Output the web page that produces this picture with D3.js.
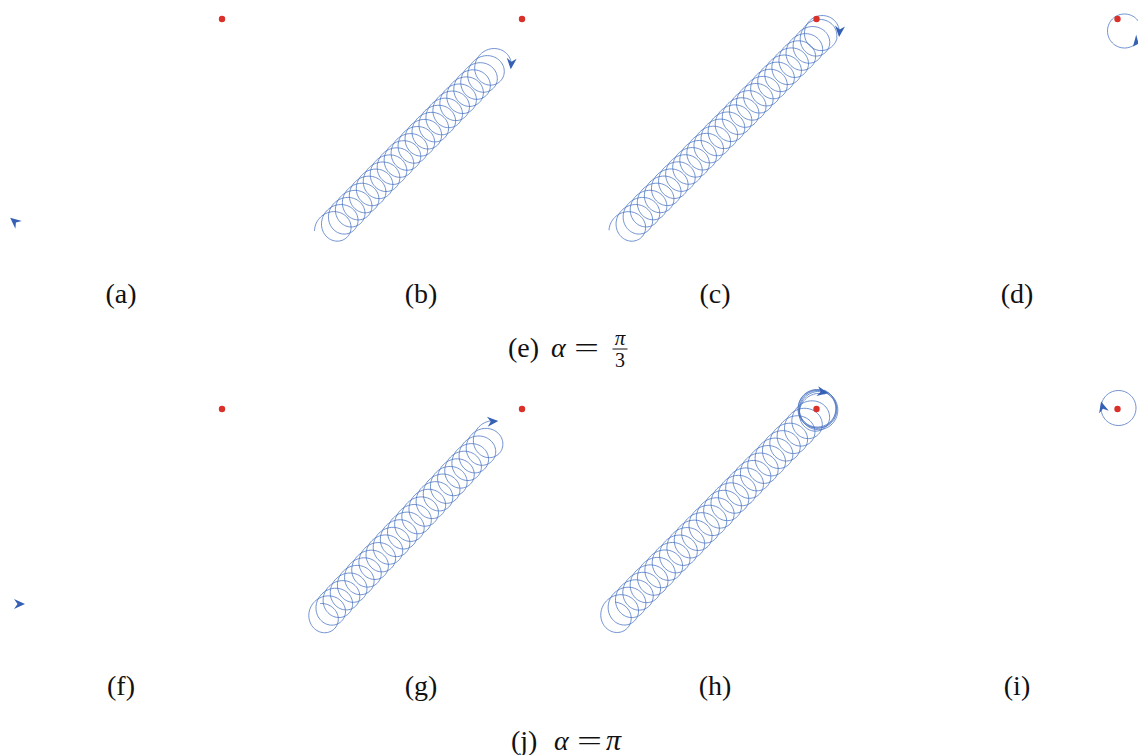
<!DOCTYPE html>
<html>
<head>
<meta charset="utf-8">
<script src="https://cdn.jsdelivr.net/npm/d3@7"></script>
<style>
  html, body { margin: 0; padding: 0; background: #fff; }
  svg { display: block; }
  .lbl { font-family: "Liberation Serif", "Times New Roman", serif; fill: #111; }
</style>
</head>
<body>
<svg id="fig" width="1138" height="755"></svg>
<script>
// ---- data (world units, y pointing up; every panel shares one frame) ----
const rowLabels = [["(a)", "(b)", "(c)", "(d)"], ["(f)", "(g)", "(h)", "(i)"]];
const captionTags = ["(e)", "(j)"];
const alphaNumerators = ["π", "π"];
const alphaDenominators = ["3", null];

const targets = [[222, 241], [222, 241]];

// legs: [x0, y0, x1, y1, loops, radius] — centre drifts from (x0,y0) to (x1,y1)
const legsA = [];
const legsB = [[31, 30, 195, 197, 23.55, 16.5]];
const legsC = [[31, 30, 226, 226, 27.53, 16.5], [226, 226, 228, 228, 1, 17]];
const legsD = [[229, 229, 229, 229, 1, 17]];
const legsF = [];
const legsG = [[20, 30, 192, 213, 24.04, 16.5]];
const legsH = [[18, 31, 224, 240, 28.03, 17], [224, 240, 222, 242, 2, 18.5], [222, 242, 225, 239, 2, 19.5]];
const legsI = [[223, 242, 223, 242, 1, 17.5]];

// phase (deg) of the agent on its last loop
const endPhases = [[null, -15, -10, -55], [null, 75, 70, 165]];
// agent marker: heading (deg, world), and a fixed position where no path exists
const headings = [[140, -95, -95, -130], [0, 5, -10, 105]];
const startMarkers = [[[14, 39], null, null, null], [[20, 46], null, null, null]];

const legs = [[legsA, legsB, legsC, legsD], [legsF, legsG, legsH, legsI]];

// ---- layout ----
const colOffsets = [0, 300, 594.5, 895.5];
const rowOffsets = [0, 390];
const frameW = 300, frameH = 260;
const labelY = [303, 695];
const labelX = [121, 421, 715, 1017];

const svg = d3.select("#fig");
svg.append("rect").attr("width", 1138).attr("height", 755).attr("fill", "#fff");

const blue = "#4570c0";
const arrowBlue = "#3560b4";
const red = "#d9302a";

function tracePath(legList, endPhaseDeg, samplesPerLoop) {
  const total = d3.sum(legList, d => d[4]);
  const pts = [];
  let u0 = 0;
  legList.forEach((leg, k) => {
    const [x0, y0, x1, y1, loops, r] = leg;
    const n = Math.max(2, Math.round(loops * samplesPerLoop));
    for (let i = (k === 0 ? 0 : 1); i <= n; i++) {
      const f = i / n;
      const u = u0 + f * loops;
      const th = (endPhaseDeg * Math.PI / 180) + 2 * Math.PI * (total - u);
      const cx = x0 + (x1 - x0) * f;
      const cy = y0 + (y1 - y0) * f;
      pts.push([cx + r * Math.cos(th), cy + r * Math.sin(th)]);
    }
    u0 += loops;
  });
  return pts;
}

rowLabels.forEach((labels, ri) => {
  labels.forEach((lab, ci) => {
    const x = d3.scaleLinear().domain([0, frameW]).range([colOffsets[ci], colOffsets[ci] + frameW]);
    const y = d3.scaleLinear().domain([0, frameH]).range([rowOffsets[ri] + frameH, rowOffsets[ri]]);
    const g = svg.append("g");

    const legList = legs[ri][ci];
    let markerPos = startMarkers[ri][ci];
    let tipOffset = 5;
    if (legList.length) {
      const pts = tracePath(legList, endPhases[ri][ci], 72);
      const line = d3.line().x(d => x(d[0])).y(d => y(d[1])).curve(d3.curveLinear);
      g.append("path")
        .attr("d", line(pts))
        .attr("fill", "none")
        .attr("stroke", blue)
        .attr("stroke-width", 0.85)
        .attr("stroke-opacity", 0.9);
      markerPos = pts[pts.length - 1];
      tipOffset = 2;
    }

    // target
    const t = targets[ri];
    g.append("circle")
      .attr("cx", x(t[0])).attr("cy", y(t[1])).attr("r", 3.2)
      .attr("fill", red);

    // agent arrowhead
    if (markerPos) {
      const ang = -headings[ri][ci];
      g.append("path")
        .attr("d", `M${tipOffset},0 L${tipOffset - 11},-5 L${tipOffset - 7.5},0 L${tipOffset - 11},5 Z`)
        .attr("transform", `translate(${x(markerPos[0])},${y(markerPos[1])}) rotate(${ang})`)
        .attr("fill", arrowBlue);
    }

    // panel tag
    svg.append("text").attr("class", "lbl")
      .attr("x", labelX[ci]).attr("y", labelY[ri])
      .attr("text-anchor", "middle")
      .attr("font-size", 28)
      .text(lab);
  });
});

// captions: "(e) α = π/3" and "(j) α = π"
const capY = [357, 750];
const capX = [508, 511];
captionTags.forEach((tag, i) => {
  const cy = capY[i];
  const cx = capX[i];
  svg.append("text").attr("class", "lbl").attr("x", cx).attr("y", cy)
    .attr("font-size", 28).text(tag);
  svg.append("text").attr("class", "lbl").attr("x", cx + 43).attr("y", cy)
    .attr("font-size", 28).attr("font-style", "italic").text("α");
  svg.append("text").attr("class", "lbl").attr("x", cx + 66).attr("y", cy)
    .attr("font-size", 28).attr("textLength", 25).attr("lengthAdjust", "spacingAndGlyphs").text("=");
  if (alphaDenominators[i]) {
    const fx = cx + 112;
    svg.append("text").attr("class", "lbl").attr("x", fx).attr("y", cy - 12)
      .attr("text-anchor", "middle").attr("font-size", 21).attr("font-style", "italic")
      .text(alphaNumerators[i]);
    svg.append("line").attr("x1", fx - 7.5).attr("x2", fx + 7.5)
      .attr("y1", cy - 8).attr("y2", cy - 8)
      .attr("stroke", "#111").attr("stroke-width", 1);
    svg.append("text").attr("class", "lbl").attr("x", fx).attr("y", cy + 10)
      .attr("text-anchor", "middle").attr("font-size", 20)
      .text(alphaDenominators[i]);
  } else {
    svg.append("text").attr("class", "lbl").attr("x", cx + 95).attr("y", cy)
      .attr("font-size", 30).attr("font-style", "italic").text(alphaNumerators[i]);
  }
});
</script>
</body>
</html>
